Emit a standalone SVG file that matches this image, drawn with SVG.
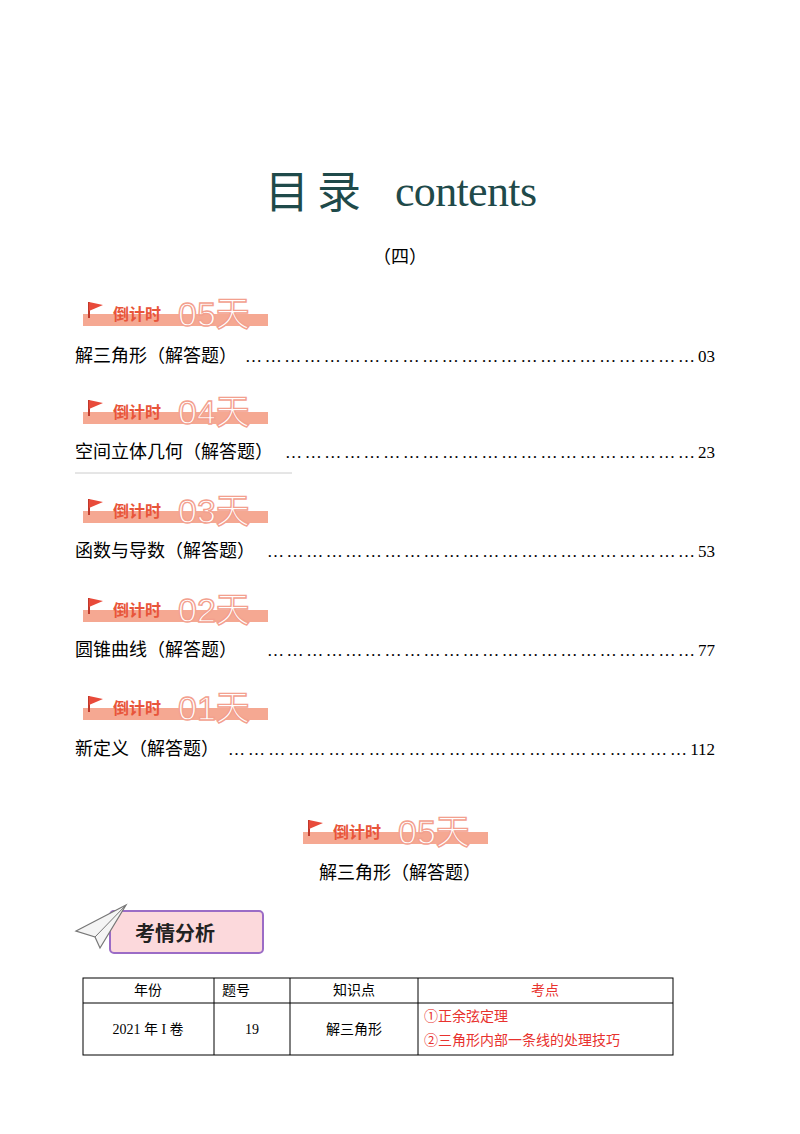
<svg xmlns="http://www.w3.org/2000/svg" width="800" height="1134" viewBox="0 0 800 1134">
<style>
.e{font-family:"Noto Sans CJK SC","Liberation Serif",serif;font-size:18px;fill:#000}
.d{font-family:"Liberation Serif",serif;font-size:17px;fill:#000}
.t{font-family:"Liberation Serif","Noto Sans CJK SC",serif;font-size:14px;fill:#000}
.r{fill:#e8322e}
.bt{font-family:"Noto Sans CJK SC",sans-serif;font-size:16px;font-weight:bold;fill:#e8553a}
.bn{font-family:"Liberation Sans","Noto Sans CJK SC",sans-serif;font-size:34px;fill:#fff;stroke:#f3a08e;stroke-width:1.4}
</style>
<defs>
<g id="badge">
<rect x="0" y="18" width="185" height="12" fill="#f5a892"/>
<line x1="6" y1="6" x2="6" y2="22" stroke="#c0392b" stroke-width="2"/>
<path d="M6 6 L20 9 L6 15 Z" fill="#e84a3a"/>
<text x="30" y="24" class="bt">倒计时</text>
</g>
</defs>
<rect width="800" height="1134" fill="#fff"/>
<text x="265" y="208" font-family="Noto Sans CJK SC,sans-serif" font-size="44" fill="#1f4a4a">目</text>
<text x="317" y="208" font-family="Noto Sans CJK SC,sans-serif" font-size="44" fill="#1f4a4a">录</text>
<text x="395" y="206" font-family="Liberation Serif,serif" font-size="44" fill="#1f4a4a" textLength="142">contents</text>
<text x="400" y="263" text-anchor="middle" class="e" font-size="16">（四）</text>

<g id="b5"><use href="#badge" x="83" y="296"/><text x="178" y="326" class="bn">05天</text></g>
<text x="75" y="362" class="e">解三角形（解答题）</text>
<text x="245" y="362" class="d" textLength="450" lengthAdjust="spacing">……………………………………………………………</text>
<text x="715" y="362" class="d" text-anchor="end">03</text>

<g id="b4"><use href="#badge" x="83" y="394"/><text x="178" y="424" class="bn">04天</text></g>
<text x="75" y="458" class="e">空间立体几何（解答题）</text>
<text x="285" y="458" class="d" textLength="410" lengthAdjust="spacing">………………………………………………………</text>
<text x="715" y="458" class="d" text-anchor="end">23</text>
<line x1="75" y1="473" x2="292" y2="473" stroke="#ccc" stroke-width="1"/>

<g id="b3"><use href="#badge" x="83" y="493"/><text x="178" y="523" class="bn">03天</text></g>
<text x="75" y="557" class="e">函数与导数（解答题）</text>
<text x="267" y="557" class="d" textLength="428" lengthAdjust="spacing">…………………………………………………………</text>
<text x="715" y="557" class="d" text-anchor="end">53</text>

<g id="b2"><use href="#badge" x="83" y="592"/><text x="178" y="622" class="bn">02天</text></g>
<text x="75" y="656" class="e">圆锥曲线（解答题）</text>
<text x="267" y="656" class="d" textLength="428" lengthAdjust="spacing">…………………………………………………………</text>
<text x="715" y="656" class="d" text-anchor="end">77</text>

<g id="b1"><use href="#badge" x="83" y="690"/><text x="178" y="720" class="bn">01天</text></g>
<text x="75" y="755" class="e">新定义（解答题）</text>
<text x="228" y="755" class="d" textLength="459" lengthAdjust="spacing">……………………………………………………………</text>
<text x="715" y="755" class="d" text-anchor="end">112</text>

<g id="b5c"><use href="#badge" x="303" y="814"/><text x="398" y="844" class="bn">05天</text></g>
<text x="400" y="879" text-anchor="middle" class="e" font-size="17">解三角形（解答题）</text>

<g id="kq">
<rect x="110" y="911" width="153" height="42" rx="4" fill="#fcd9dc" stroke="#9b6cc6" stroke-width="2"/>
<path d="M76 931 L126 905 L100 948 L95 937 Z" fill="#f4f4f4" stroke="#777" stroke-width="1.2"/>
<path d="M95 937 L126 905" stroke="#777" stroke-width="1"/>
<text x="135" y="941" font-family="Noto Sans CJK SC,sans-serif" font-size="20" font-weight="bold" fill="#222">考情分析</text>
</g>

<g id="table" fill="none" stroke="#000" stroke-width="1">
<rect x="83" y="978" width="590" height="77"/>
<line x1="83" y1="1003" x2="673" y2="1003"/>
<line x1="214" y1="978" x2="214" y2="1055"/>
<line x1="290" y1="978" x2="290" y2="1055"/>
<line x1="418" y1="978" x2="418" y2="1055"/>
</g>
<text x="148" y="995" text-anchor="middle" class="t">年份</text>
<text x="236" y="995" text-anchor="middle" class="t">题号</text>
<text x="354" y="995" text-anchor="middle" class="t">知识点</text>
<text x="545" y="995" text-anchor="middle" class="t r">考点</text>
<text x="148" y="1034" text-anchor="middle" class="t">2021 年 I 卷</text>
<text x="252" y="1034" text-anchor="middle" class="t">19</text>
<text x="354" y="1034" text-anchor="middle" class="t">解三角形</text>
<text x="424" y="1021" class="t r">①正余弦定理</text>
<text x="424" y="1045" class="t r">②三角形内部一条线的处理技巧</text>
</svg>
